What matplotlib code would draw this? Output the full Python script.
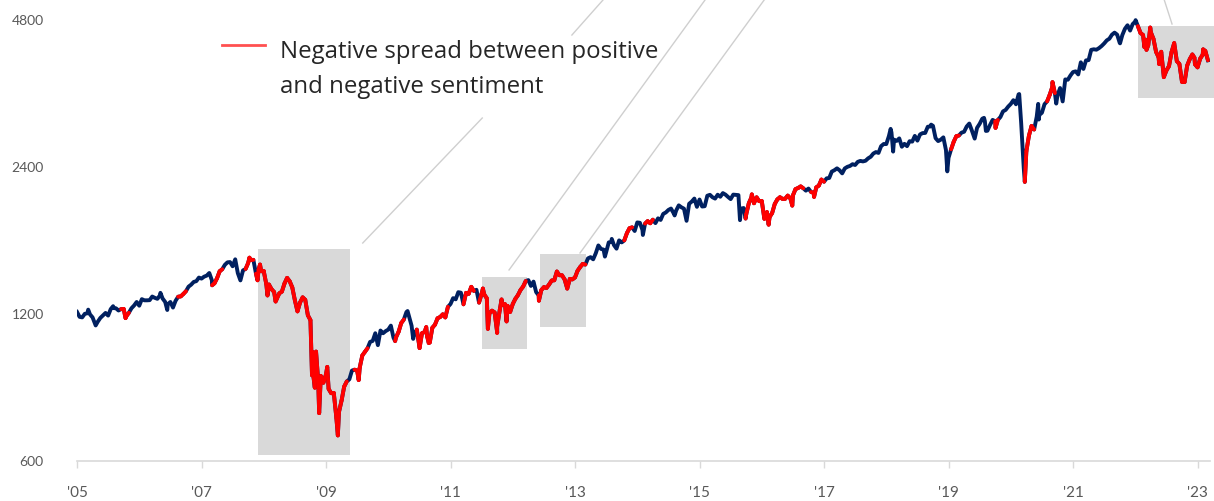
import numpy as np
import matplotlib
matplotlib.use("Agg")
import matplotlib.pyplot as plt
from matplotlib.collections import LineCollection

# S&P 500 month-end closes (Jan..Dec), start value is the 2004 year-end close
spx_start = 1212
spx_2005 = [1181, 1204, 1181, 1157, 1192, 1191, 1234, 1220, 1229, 1207, 1249, 1248]
spx_2006 = [1280, 1281, 1295, 1311, 1270, 1270, 1277, 1304, 1336, 1378, 1401, 1418]
spx_2007 = [1438, 1407, 1421, 1482, 1531, 1503, 1455, 1474, 1527, 1549, 1481, 1468]
spx_2008 = [1379, 1331, 1323, 1386, 1400, 1280, 1267, 1283, 1166, 969, 896, 903]
spx_2009 = [826, 735, 798, 873, 919, 919, 987, 1021, 1057, 1036, 1096, 1115]
spx_2010 = [1074, 1104, 1169, 1187, 1089, 1031, 1102, 1049, 1141, 1183, 1181, 1258]
spx_2011 = [1286, 1327, 1326, 1364, 1345, 1321, 1292, 1219, 1131, 1253, 1247, 1258]
spx_2012 = [1312, 1366, 1408, 1398, 1310, 1362, 1379, 1407, 1441, 1412, 1416, 1426]
spx_2013 = [1498, 1515, 1569, 1598, 1631, 1606, 1686, 1633, 1682, 1757, 1806, 1848]
spx_2014 = [1783, 1859, 1872, 1884, 1924, 1960, 1931, 2003, 1972, 2018, 2068, 2059]
spx_2015 = [1995, 2105, 2068, 2086, 2107, 2063, 2104, 1972, 1920, 2079, 2080, 2044]
spx_2016 = [1940, 1932, 2060, 2065, 2097, 2099, 2174, 2171, 2168, 2126, 2199, 2239]
spx_2017 = [2279, 2364, 2363, 2384, 2412, 2423, 2470, 2472, 2519, 2575, 2648, 2674]
spx_2018 = [2824, 2714, 2641, 2648, 2705, 2718, 2816, 2902, 2914, 2712, 2760, 2507]
spx_2019 = [2704, 2784, 2834, 2946, 2752, 2942, 2980, 2926, 2977, 3038, 3141, 3231]
spx_2020 = [3226, 2954, 2585, 2912, 3044, 3100, 3271, 3500, 3363, 3270, 3622, 3756]
spx_2021 = [3714, 3811, 3973, 4181, 4204, 4298, 4395, 4523, 4308, 4605, 4567, 4766]
spx_2022 = [4516, 4374, 4530, 4132, 4132, 3785, 4130, 3955, 3586, 3872, 4080, 3840]
spx_2023 = [4077, 3970]

# mid-month levels (around the 15th)
mid_2005 = [1184, 1201, 1198, 1143, 1178, 1206, 1228, 1233, 1228, 1187, 1233, 1270]
mid_2006 = [1287, 1280, 1303, 1289, 1291, 1256, 1237, 1302, 1319, 1365, 1396, 1425]
mid_2007 = [1431, 1456, 1387, 1468, 1513, 1533, 1553, 1406, 1484, 1548, 1451, 1468]
mid_2008 = [1380, 1349, 1288, 1334, 1423, 1360, 1215, 1298, 1193, 907, 873, 868]
mid_2009 = [843, 827, 756, 852, 882, 923, 932, 1004, 1052, 1096, 1110, 1107]
mid_2010 = [1136, 1075, 1150, 1211, 1135, 1115, 1096, 1079, 1125, 1176, 1198, 1241]
mid_2011 = [1293, 1330, 1256, 1320, 1338, 1266, 1316, 1204, 1209, 1224, 1257, 1212]
mid_2012 = [1289, 1344, 1402, 1370, 1331, 1343, 1357, 1405, 1466, 1440, 1353, 1413]
mid_2013 = [1472, 1520, 1560, 1553, 1658, 1626, 1682, 1661, 1698, 1698, 1798, 1775]
mid_2014 = [1845, 1838, 1841, 1842, 1870, 1937, 1973, 1955, 1985, 1862, 2039, 1989]
mid_2015 = [1992, 2096, 2081, 2106, 2122, 2084, 2107, 2102, 1978, 2023, 2023, 2043]
mid_2016 = [1880, 1895, 2016, 2081, 2066, 2071, 2162, 2190, 2147, 2133, 2180, 2262]
mid_2017 = [2275, 2349, 2385, 2329, 2402, 2432, 2459, 2464, 2500, 2557, 2565, 2675]
mid_2018 = [2776, 2731, 2747, 2677, 2711, 2779, 2798, 2818, 2905, 2750, 2730, 2600]
mid_2019 = [2610, 2775, 2822, 2905, 2850, 2887, 3014, 2848, 2997, 2996, 3120, 3191]
mid_2020 = [3289, 3380, 2386, 2783, 2864, 3067, 3227, 3373, 3401, 3483, 3627, 3695]
mid_2021 = [3768, 3932, 3968, 4170, 4173, 4246, 4360, 4479, 4480, 4471, 4683, 4709]
mid_2022 = [4663, 4471, 4262, 4392, 4024, 3667, 3863, 4305, 3901, 3583, 3992, 3896]
mid_2023 = [3999, 4148]

# other intra-month highs / lows (fractional year, level)
swing_dates = [2005.18, 2005.30, 2005.58, 2005.78, 2006.34, 2006.45,
               2007.17, 2007.77, 2007.90, 2007.94, 2008.06, 2008.19,
               2008.775, 2008.783, 2008.82, 2008.84, 2008.89, 2009.02,
               2009.19, 2009.525, 2010.11, 2010.31, 2010.40, 2010.503,
               2010.61, 2010.65, 2011.52, 2011.60, 2011.75, 2011.82, 2011.90,
               2012.42, 2013.48, 2013.59, 2014.09, 2014.60, 2015.65, 2015.74,
               2015.84, 2016.11, 2016.49, 2016.84, 2018.07, 2018.11, 2018.72,
               2018.98, 2019.42, 2019.57, 2019.60, 2019.755, 2020.135,
               2020.225, 2020.44, 2020.45, 2020.67, 2020.73, 2021.755,
               2022.005, 2022.146, 2022.18, 2022.24, 2022.383, 2022.95, 2023.09]
swing_values = [1225, 1137, 1245, 1177, 1326, 1223,
                1374, 1565, 1407, 1515, 1310, 1273,
                899, 1003, 848, 1005, 752, 935,
                677, 879, 1056, 1217, 1067, 1022,
                1128, 1047, 1353, 1119, 1099, 1285, 1159,
                1278, 1573, 1710, 1742, 1910, 1868, 1882,
                2109, 1829, 2001, 2085, 2873, 2581, 2931,
                2351, 2744, 3026, 2845, 2887, 3386,
                2237, 3232, 3002, 3580, 3237, 4300,
                4797, 4226, 4171, 4632, 3901, 4019, 4179]

# periods with a negative sentiment spread (red)
neg_start = [2005.70, 2006.63, 2007.17, 2007.70, 2007.88, 2009.46, 2010.10,
             2010.46, 2011.20, 2011.47, 2012.40, 2013.80, 2014.12, 2015.73,
             2016.81, 2019.06, 2019.73, 2020.23, 2020.57, 2022.04]
neg_end = [2005.85, 2006.75, 2007.33, 2007.83, 2009.35, 2009.67, 2010.27,
           2010.94, 2011.38, 2012.21, 2013.17, 2013.93, 2014.24, 2016.65,
           2017.02, 2019.15, 2019.81, 2020.36, 2020.70, 2023.30]

# highlighted boxes
box_x0 = [2007.90, 2011.51, 2012.44, 2022.04]
box_x1 = [2009.38, 2012.23, 2013.18, 2023.30]
box_lo = [617, 1017, 1129, 3322]
box_hi = [1630, 1429, 1592, 4666]

year_ticks = list(range(2005, 2024, 2))
year_labels = ["'%02d" % (y % 100) for y in year_ticks]
y_ticks = [600, 1200, 2400, 4800]

month_ends = [spx_2005, spx_2006, spx_2007, spx_2008, spx_2009, spx_2010, spx_2011,
              spx_2012, spx_2013, spx_2014, spx_2015, spx_2016, spx_2017, spx_2018,
              spx_2019, spx_2020, spx_2021, spx_2022, spx_2023]
month_mids = [mid_2005, mid_2006, mid_2007, mid_2008, mid_2009, mid_2010, mid_2011,
              mid_2012, mid_2013, mid_2014, mid_2015, mid_2016, mid_2017, mid_2018,
              mid_2019, mid_2020, mid_2021, mid_2022, mid_2023]
dates = [2005.0]
values = [spx_start]
for i, (ends, mids) in enumerate(zip(month_ends, month_mids)):
    for m, v in enumerate(ends):
        dates.append(2005 + i + (m + 1) / 12.0)
        values.append(v)
    for m, v in enumerate(mids):
        dates.append(2005 + i + (m + 0.5) / 12.0)
        values.append(v)
dates += swing_dates
values += swing_values
order = np.argsort(dates)
dates = np.array(dates)[order]
values = np.array(values, dtype=float)[order]

NAVY = "#002060"
RED = "#ff0000"

fig = plt.figure(figsize=(12.14, 5.01), dpi=100)
ax = fig.add_axes([77 / 1214, 40 / 501, 1133 / 1214, 461 / 501])
ax.set_yscale("log")
ax.set_xlim(2005.0, 2023.2)
ax.set_ylim(600, 5275)

for x0, x1, lo, hi in zip(box_x0, box_x1, box_lo, box_hi):
    ax.fill_between([x0, x1], lo, hi, color="#d9d9d9", lw=0, zorder=1, clip_on=False)

# leader lines to the (cropped) call-outs
leaders = [((2009.59, 1677), (2011.51, 3024)),
           ((2012.95, 4472), (2013.63, 5600)),
           ((2011.94, 1477), (2015.10, 5300)),
           ((2013.08, 1600), (2016.05, 5300)),
           ((2022.59, 4710), (2022.40, 5600))]
for (xa, ya), (xb, yb) in leaders:
    ax.plot([xa, xb], [ya, yb], color="#cfcfcf", lw=1.0, zorder=1)

ax.plot(dates, values, color=NAVY, lw=2.8, zorder=3, solid_joinstyle="round")

segs = []
for i in range(len(dates) - 1):
    mid = 0.5 * (dates[i] + dates[i + 1])
    if any(s <= mid <= e for s, e in zip(neg_start, neg_end)):
        segs.append([(dates[i], values[i]), (dates[i + 1], values[i + 1])])
lc = LineCollection(segs, colors=RED, linewidths=2.8, capstyle="round", zorder=4)
ax.add_collection(lc)

for side in ["top", "right", "left"]:
    ax.spines[side].set_visible(False)
ax.spines["bottom"].set_color("#d9d9d9")
ax.spines["bottom"].set_linewidth(1.2)

ax.set_xticks(year_ticks)
ax.set_xticklabels(year_labels)
ax.set_yticks(y_ticks)
ax.set_yticklabels([str(v) for v in y_ticks])
ax.yaxis.set_minor_locator(matplotlib.ticker.NullLocator())
ax.tick_params(axis="y", length=0, pad=24, labelsize=10, labelcolor="#595959")
ax.tick_params(axis="x", length=5, width=1, color="#d9d9d9", pad=13,
               labelsize=11, labelcolor="#595959")
for t in ax.get_xticklabels() + ax.get_yticklabels():
    t.set_family("Lato")

# legend
ax.plot([0.128, 0.166], [0.902, 0.902], transform=ax.transAxes,
        color="#ff5050", lw=2.0, clip_on=False)
ax.text(0.179, 0.874, "Negative spread between positive", transform=ax.transAxes,
        va="baseline", ha="left", fontsize=17.3, family="Open Sans", color="#262626")
ax.text(0.179, 0.798, "and negative sentiment", transform=ax.transAxes,
        va="baseline", ha="left", fontsize=17.3, family="Open Sans", color="#262626")

fig.savefig("out.png", dpi=100)
